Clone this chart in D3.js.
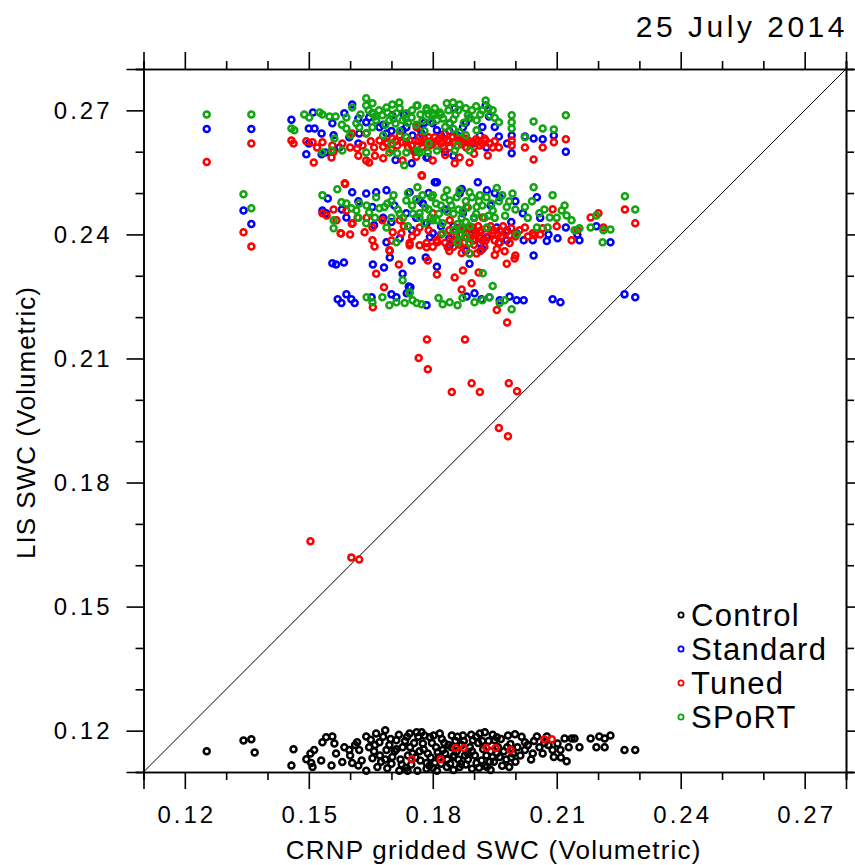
<!DOCTYPE html>
<html>
<head>
<meta charset="utf-8">
<script src="https://cdn.jsdelivr.net/npm/d3@7"></script>
<style>
  body { margin: 0; background: #fff; }
  text { font-family: "Liberation Sans", Arial, sans-serif; fill: #000; }
</style>
</head>
<body>
<div id="container"></div>
<script>
/* DATA : [CRNP, LIS] pairs */
const controlPts = [
  [0.1253,0.1150],[0.1342,0.1176],[0.1361,0.1179],[0.1369,0.1147],[0.1458,0.1116],[0.1463,0.1155],[0.1494,0.1131],[0.1504,0.1145],
  [0.1509,0.1112],[0.1513,0.1153],[0.1506,0.1122],[0.1533,0.1172],[0.1530,0.1128],[0.1542,0.1184],[0.1555,0.1116],[0.1557,0.1186],
  [0.1562,0.1169],[0.1566,0.1145],[0.1581,0.1124],[0.1586,0.1160],[0.1598,0.1153],[0.1605,0.1122],[0.1617,0.1172],[0.1620,0.1116],
  [0.1622,0.1153],[0.1639,0.1186],[0.1639,0.1103],[0.1646,0.1160],[0.1654,0.1133],[0.1663,0.1193],[0.1666,0.1112],[0.1671,0.1172],
  [0.1685,0.1201],[0.1688,0.1153],[0.1690,0.1109],[0.1702,0.1136],[0.1712,0.1177],[0.1719,0.1103],[0.1727,0.1160],[0.1739,0.1103],
  [0.1744,0.1193],[0.1751,0.1145],[0.1761,0.1196],[0.1763,0.1103],[0.1773,0.1196],[0.1776,0.1169],[0.1785,0.1122],[0.1793,0.1184],
  [0.1805,0.1122],[0.1810,0.1103],[0.1817,0.1193],[0.1824,0.1153],[0.1834,0.1112],[0.1846,0.1188],[0.1849,0.1136],[0.1865,0.1112],
  [0.1873,0.1188],[0.1885,0.1145],[0.1897,0.1177],[0.1906,0.1122],[0.1914,0.1193],[0.1926,0.1196],[0.1931,0.1112],[0.1945,0.1136],
  [0.1955,0.1184],[0.1926,0.1116],[0.1950,0.1177],[0.1962,0.1136],[0.1982,0.1188],[0.1994,0.1145],[0.1999,0.1191],[0.2023,0.1172],
  [0.2023,0.1153],[0.2042,0.1145],[0.2052,0.1186],[0.2066,0.1145],[0.2076,0.1186],[0.2090,0.1153],[0.2093,0.1136],[0.2102,0.1169],
  [0.2109,0.1153],[0.2119,0.1181],[0.2124,0.1126],[0.2129,0.1160],[0.2136,0.1181],[0.2143,0.1181],[0.2155,0.1160],[0.2182,0.1181],
  [0.2196,0.1160],[0.2203,0.1186],[0.2216,0.1160],[0.2216,0.1181],[0.2230,0.1188],[0.2264,0.1153],[0.2290,0.1153],
  [0.1600,0.1140],[0.1612,0.1165],[0.1628,0.1128],[0.1650,0.1178],[0.1658,0.1150],[0.1675,0.1125],[0.1680,0.1185],[0.1695,0.1165],
  [0.1700,0.1120],[0.1708,0.1150],[0.1718,0.1190],[0.1722,0.1130],[0.1733,0.1175],[0.1740,0.1140],[0.1748,0.1118],[0.1755,0.1170],
  [0.1768,0.1150],[0.1770,0.1128],[0.1780,0.1188],[0.1788,0.1145],[0.1798,0.1170],[0.1800,0.1110],[0.1808,0.1160],[0.1815,0.1135],
  [0.1822,0.1180],[0.1830,0.1145],[0.1838,0.1165],[0.1842,0.1120],[0.1855,0.1175],[0.1858,0.1150],[0.1862,0.1130],[0.1870,0.1165],
  [0.1878,0.1140],[0.1880,0.1118],[0.1890,0.1160],[0.1893,0.1190],[0.1902,0.1140],[0.1910,0.1170],[0.1918,0.1128],[0.1922,0.1155],
  [0.1935,0.1175],[0.1940,0.1150],[0.1948,0.1125],[0.1958,0.1160],[0.1965,0.1180],[0.1972,0.1150],[0.1978,0.1130],[0.1988,0.1168],
  [0.2005,0.1160],[0.2012,0.1140],[0.2030,0.1165],[0.2038,0.1130],[0.2058,0.1160],[0.2070,0.1170],[0.1735,0.1110],[0.1792,0.1115],
  [0.1850,0.1105],[0.1895,0.1108],[0.1940,0.1105],[0.1985,0.1112],
  [0.1660,0.1165],[0.1672,0.1140],[0.1685,0.1130],[0.1698,0.1180],[0.1712,0.1155],[0.1725,0.1118],[0.1738,0.1185],[0.1745,0.1160],
  [0.1758,0.1135],[0.1765,0.1185],[0.1778,0.1155],[0.1785,0.1108],[0.1795,0.1135],[0.1802,0.1188],[0.1812,0.1148],[0.1820,0.1120],
  [0.1828,0.1170],[0.1835,0.1130],[0.1845,0.1160],[0.1852,0.1140],[0.1860,0.1185],[0.1868,0.1120],[0.1875,0.1175],[0.1885,0.1130],
  [0.1895,0.1150],[0.1905,0.1185],[0.1912,0.1110],[0.1920,0.1175],[0.1930,0.1140],[0.1938,0.1125],[0.1945,0.1190],[0.1955,0.1145],
  [0.1968,0.1115],[0.1980,0.1160],[0.1990,0.1135],[0.2000,0.1125],[0.2015,0.1185],[0.2045,0.1175],[0.2080,0.1165],[0.2110,0.1135]
];

const standardPts = [
  [0.1253,0.2655],[0.1361,0.2655],[0.1342,0.2458],[0.1361,0.2425],
  [0.1458,0.2677],[0.1510,0.2695],[0.1500,0.2656],[0.1514,0.2656],[0.1531,0.2644],[0.1494,0.2594],[0.1531,0.2594],[0.1557,0.2669],
  [0.1586,0.2693],[0.1605,0.2714],[0.1598,0.2635],[0.1639,0.2671],[0.1654,0.2693],[0.1688,0.2644],[0.1702,0.2688],[0.1727,0.2652],
  [0.1749,0.2572],[0.1773,0.2644],[0.1788,0.2586],[0.1800,0.2669],[0.1646,0.2683],[0.1671,0.2659],[0.1574,0.2610],[0.1622,0.2644],
  [0.1736,0.2659],[0.1751,0.2639],[0.1785,0.2586],[0.1810,0.2652],[0.1841,0.2669],[0.1853,0.2705],[0.1873,0.2659],[0.1889,0.2681],
  [0.1914,0.2639],[0.1928,0.2712],[0.1936,0.2685],[0.1960,0.2637],[0.1991,0.2639],[0.1991,0.2596],[0.2023,0.2637],[0.2044,0.2632],
  [0.2066,0.2630],[0.2093,0.2639],[0.2122,0.2600],[0.1768,0.2656],[0.1860,0.2639],[0.1897,0.2620],
  [0.1540,0.2598],[0.1700,0.2650],[0.1820,0.2640],[0.1950,0.2660],[0.1710,0.2580],[0.1830,0.2600],
  [0.1620,0.2680],[0.1680,0.2665],[0.1730,0.2690],[0.1780,0.2670],[0.1840,0.2650],[0.1880,0.2670],[0.1920,0.2660],[0.1620,0.2620],
  [0.1560,0.2640],[0.1500,0.2620],[0.1760,0.2600],[0.1850,0.2590],[0.1930,0.2610],[0.1980,0.2620],
  [0.1546,0.2487],[0.1533,0.2458],[0.1542,0.2451],[0.1605,0.2502],[0.1639,0.2499],[0.1663,0.2502],[0.1688,0.2507],[0.1707,0.2470],
  [0.1688,0.2381],[0.1654,0.2466],[0.1744,0.2502],[0.1776,0.2475],[0.1793,0.2393],[0.1805,0.2526],[0.1658,0.2422],[0.1591,0.2441],
  [0.1810,0.2526],[0.1909,0.2526],[0.1785,0.2427],[0.1841,0.2374],[0.1914,0.2379],[0.1979,0.2386],[0.2020,0.2386],[0.2042,0.2386],
  [0.2076,0.2384],[0.2102,0.2391],[0.2155,0.2386],[0.2230,0.2381],[0.2122,0.2417],[0.2196,0.2420],[0.2052,0.2490],[0.2018,0.2451],
  [0.1962,0.2490],[0.2003,0.2403],[0.1873,0.2451],[0.1736,0.2451],[0.1768,0.2482],[0.1865,0.2499],[0.1931,0.2507],[0.1931,0.2393],
  [0.1882,0.2393],[0.1800,0.2403],[0.1955,0.2417],
  [0.1700,0.2430],[0.1720,0.2390],[0.1760,0.2440],[0.1830,0.2460],[0.1850,0.2420],[0.1900,0.2440],[0.1940,0.2470],[0.1990,0.2430],
  [0.1860,0.2380],[0.1960,0.2380],
  [0.1680,0.2440],[0.1750,0.2410],[0.1820,0.2420],[0.1900,0.2410],[0.1980,0.2410],[0.2060,0.2440],[0.1790,0.2500],[0.1870,0.2510],
  [0.1950,0.2500],[0.2000,0.2480],[0.1620,0.2480],[0.1580,0.2460],[0.1880,0.2360],[0.1920,0.2365],[0.1840,0.2390],[0.2080,0.2400],
  [0.2150,0.2400],
  [0.1557,0.2330],[0.1566,0.2327],[0.1585,0.2332],[0.1655,0.2327],[0.1682,0.2320],[0.1696,0.2344],[0.1727,0.2305],[0.1742,0.2274],
  [0.1749,0.2337],[0.1783,0.2344],[0.1810,0.2322],[0.1889,0.2329],[0.2044,0.2349],
  [0.1570,0.2243],[0.1579,0.2234],[0.1591,0.2255],[0.1603,0.2243],[0.1611,0.2234],[0.1652,0.2248],[0.1700,0.2255],[0.1712,0.2248],
  [0.1737,0.2258],[0.1746,0.2272],[0.1785,0.2229],[0.1882,0.2250],[0.1901,0.2258],[0.1918,0.2243],[0.1937,0.2248],[0.1962,0.2241],
  [0.1986,0.2250],[0.2003,0.2241],[0.2020,0.2241],[0.2090,0.2243],[0.2109,0.2236],[0.2264,0.2255],[0.2290,0.2248]
];

const tunedPts = [
  [0.1253,0.2575],[0.1361,0.2620],[0.1342,0.2405],[0.1361,0.2371],[0.2265,0.2460],[0.2290,0.2427],
  [0.1458,0.2627],[0.1463,0.2620],[0.1494,0.2625],[0.1509,0.2623],[0.1512,0.2574],[0.1533,0.2623],[0.1555,0.2586],[0.1557,0.2615],
  [0.1581,0.2620],[0.1605,0.2644],[0.1617,0.2608],[0.1639,0.2644],[0.1639,0.2579],[0.1646,0.2574],[0.1658,0.2610],[0.1680,0.2584],
  [0.1688,0.2623],[0.1702,0.2632],[0.1714,0.2615],[0.1727,0.2579],[0.1736,0.2623],[0.1749,0.2615],[0.1761,0.2659],[0.1776,0.2623],
  [0.1793,0.2615],[0.1800,0.2579],[0.1671,0.2627],[0.1690,0.2620],[0.1727,0.2623],[0.1744,0.2627],[0.1763,0.2615],[0.1785,0.2623],
  [0.1810,0.2615],[0.1829,0.2644],[0.1853,0.2572],[0.1865,0.2586],[0.1873,0.2623],[0.1889,0.2574],[0.1897,0.2623],[0.1928,0.2627],
  [0.1933,0.2591],[0.1945,0.2610],[0.1960,0.2610],[0.1991,0.2627],[0.1991,0.2615],[0.2023,0.2610],[0.2044,0.2581],[0.2066,0.2610],
  [0.2093,0.2623],[0.2122,0.2630],[0.1841,0.2610],[0.1881,0.2610],[0.1914,0.2615],[0.1768,0.2635],[0.1817,0.2632],
  [0.1780,0.2630],[0.1795,0.2625],[0.1805,0.2635],[0.1820,0.2620],[0.1835,0.2628],[0.1850,0.2622],[0.1860,0.2632],[0.1870,0.2618],
  [0.1885,0.2628],[0.1905,0.2630],[0.1920,0.2620],[0.1700,0.2605],[0.1720,0.2640],[0.1755,0.2600],
  [0.1765,0.2625],[0.1775,0.2612],[0.1790,0.2635],[0.1800,0.2620],[0.1812,0.2628],[0.1825,0.2612],[0.1840,0.2625],[0.1848,0.2635],
  [0.1858,0.2615],[0.1866,0.2625],[0.1878,0.2632],[0.1890,0.2618],[0.1900,0.2612],[0.1910,0.2625],[0.1925,0.2632],[0.1938,0.2620],
  [0.1950,0.2625],[0.1630,0.2615],[0.1650,0.2625],[0.1680,0.2612],[0.1710,0.2625],[0.1740,0.2610],[0.1620,0.2590],[0.1660,0.2590],
  [0.1760,0.2588],[0.1830,0.2592],[0.1900,0.2595],[0.1560,0.2600],[0.1600,0.2610],[0.1520,0.2610],
  [0.1587,0.2524],[0.1533,0.2451],[0.1543,0.2446],[0.1567,0.2434],[0.1577,0.2403],[0.1591,0.2458],[0.1606,0.2427],[0.1618,0.2441],
  [0.1635,0.2405],[0.1654,0.2386],[0.1659,0.2371],[0.1695,0.2362],[0.1678,0.2434],[0.1703,0.2405],[0.1724,0.2403],[0.1744,0.2379],
  [0.1761,0.2405],[0.1768,0.2374],[0.1785,0.2379],[0.1809,0.2386],[0.1720,0.2434],[0.1654,0.2417],[0.1773,0.2543],[0.1744,0.2374],
  [0.1785,0.2369],[0.1811,0.2381],[0.1836,0.2369],[0.1865,0.2417],[0.1882,0.2405],[0.1897,0.2417],[0.1914,0.2405],[0.1931,0.2415],
  [0.1945,0.2403],[0.1962,0.2410],[0.1986,0.2398],[0.1986,0.2379],[0.1974,0.2359],[0.1998,0.2342],[0.2023,0.2417],[0.2042,0.2403],
  [0.2046,0.2398],[0.2066,0.2415],[0.2090,0.2461],[0.2136,0.2386],[0.2182,0.2441],[0.2201,0.2451],[0.2213,0.2417],[0.1906,0.2354],
  [0.1882,0.2466],[0.1800,0.2451],[0.1841,0.2434],[0.1921,0.2441],[0.1768,0.2417],
  [0.1845,0.2395],[0.1855,0.2410],[0.1860,0.2385],[0.1870,0.2400],[0.1875,0.2380],[0.1885,0.2415],[0.1890,0.2390],[0.1900,0.2375],
  [0.1905,0.2400],[0.1910,0.2420],[0.1920,0.2385],[0.1925,0.2370],[0.1935,0.2395],[0.1940,0.2420],[0.1950,0.2385],[0.1955,0.2365],
  [0.1965,0.2395],[0.1970,0.2420],[0.1850,0.2370],[0.1880,0.2365],[0.1915,0.2360],[0.1820,0.2400],[0.1830,0.2380],
  [0.1840,0.2410],[0.1852,0.2385],[0.1865,0.2375],[0.1872,0.2412],[0.1880,0.2395],[0.1895,0.2405],[0.1898,0.2385],[0.1912,0.2395],
  [0.1918,0.2410],[0.1928,0.2385],[0.1945,0.2410],[0.1958,0.2400],[0.1962,0.2380],[0.1978,0.2405],[0.1990,0.2415],[0.2000,0.2395],
  [0.2010,0.2410],[0.1700,0.2385],[0.1730,0.2420],[0.1750,0.2395],[0.1790,0.2410],[0.1800,0.2370],[0.1640,0.2440],[0.1600,0.2400],
  [0.1560,0.2460],[0.2030,0.2395],[0.2060,0.2400],[0.2100,0.2420],[0.2150,0.2410],[0.1840,0.2360],[0.1870,0.2355],[0.1950,0.2350],
  [0.1774,0.2542],[0.1588,0.2522],[0.1663,0.2305],[0.1696,0.2360],[0.1718,0.2327],[0.1682,0.2272],[0.1655,0.2224],[0.1788,0.2337],
  [0.1810,0.2303],[0.1853,0.2296],[0.1873,0.2313],[0.1894,0.2282],[0.1870,0.2267],[0.1911,0.2308],[0.1889,0.2354],[0.1578,0.2402],
  [0.1604,0.2426],[0.1979,0.2329],[0.2000,0.2349],[0.1955,0.2217],
  [0.1980,0.2187],[0.1786,0.2146],[0.1878,0.2146],[0.1766,0.2101],[0.1788,0.2074],[0.1846,0.2019],[0.1894,0.2040],[0.1914,0.2019],
  [0.1984,0.2040],[0.2004,0.2021],[0.1960,0.1932],[0.1982,0.1912],[0.1504,0.1658],[0.1603,0.1619],[0.1622,0.1614],
  [0.1749,0.1131],[0.1819,0.1131],[0.1855,0.1158],[0.1875,0.1158],[0.1930,0.1158],[0.1952,0.1158],[0.1988,0.1153],[0.2070,0.1179],
  [0.2088,0.1179]
];

const sportPts = [
  [0.1253,0.2690],[0.1361,0.2690],[0.1342,0.2497],[0.1361,0.2463],[0.2265,0.2492],[0.2290,0.2460],
  [0.1489,0.2690],[0.1501,0.2683],[0.1526,0.2695],[0.1533,0.2690],[0.1550,0.2685],[0.1565,0.2685],[0.1458,0.2656],[0.1465,0.2652],
  [0.1555,0.2603],[0.1533,0.2598],[0.1581,0.2603],[0.1562,0.2632],[0.1591,0.2683],[0.1605,0.2707],[0.1639,0.2729],[0.1639,0.2712],
  [0.1654,0.2717],[0.1654,0.2693],[0.1688,0.2707],[0.1702,0.2714],[0.1719,0.2719],[0.1615,0.2669],[0.1591,0.2656],[0.1663,0.2676],
  [0.1678,0.2688],[0.1695,0.2676],[0.1712,0.2693],[0.1727,0.2676],[0.1749,0.2683],[0.1763,0.2712],[0.1785,0.2700],[0.1800,0.2688],
  [0.1654,0.2659],[0.1695,0.2598],[0.1714,0.2596],[0.1736,0.2598],[0.1763,0.2603],[0.1788,0.2598],[0.1731,0.2567],[0.1639,0.2598],
  [0.1736,0.2635],[0.1622,0.2659],[0.1736,0.2693],[0.1761,0.2712],[0.1785,0.2705],[0.1800,0.2693],[0.1817,0.2695],[0.1834,0.2717],
  [0.1849,0.2719],[0.1865,0.2714],[0.1885,0.2688],[0.1906,0.2676],[0.1928,0.2724],[0.1938,0.2688],[0.1960,0.2671],[0.1991,0.2688],
  [0.1991,0.2671],[0.1991,0.2656],[0.2023,0.2635],[0.2044,0.2673],[0.2066,0.2656],[0.2093,0.2654],[0.2122,0.2688],[0.1768,0.2598],
  [0.1810,0.2603],[0.1853,0.2603],[0.1889,0.2603],[0.1865,0.2647],[0.1906,0.2652],[0.1810,0.2676],[0.1841,0.2669],
  [0.1670,0.2700],[0.1685,0.2665],[0.1710,0.2668],[0.1740,0.2670],[0.1770,0.2690],[0.1795,0.2672],[0.1825,0.2680],[0.1855,0.2690],
  [0.1875,0.2670],[0.1895,0.2700],[0.1915,0.2690],[0.1945,0.2700],[0.1760,0.2665],[0.1830,0.2660],
  [0.1625,0.2690],[0.1645,0.2700],[0.1660,0.2685],[0.1690,0.2695],[0.1705,0.2680],[0.1720,0.2705],[0.1735,0.2680],[0.1750,0.2700],
  [0.1775,0.2675],[0.1790,0.2690],[0.1805,0.2705],[0.1820,0.2690],[0.1838,0.2700],[0.1850,0.2678],[0.1862,0.2700],[0.1880,0.2705],
  [0.1890,0.2682],[0.1905,0.2710],[0.1920,0.2700],[0.1935,0.2705],[0.1950,0.2682],[0.1580,0.2665],[0.1600,0.2640],[0.1640,0.2645],
  [0.1680,0.2640],[0.1720,0.2650],[0.1780,0.2650],[0.1850,0.2655],[0.1880,0.2640],[0.1700,0.2620],[0.1790,0.2620],[0.1860,0.2615],
  [0.1533,0.2495],[0.1569,0.2509],[0.1579,0.2478],[0.1603,0.2463],[0.1560,0.2434],[0.1560,0.2415],[0.1622,0.2475],[0.1646,0.2453],
  [0.1663,0.2490],[0.1671,0.2463],[0.1683,0.2466],[0.1688,0.2417],[0.1712,0.2381],[0.1736,0.2482],[0.1763,0.2514],[0.1768,0.2451],
  [0.1780,0.2427],[0.1797,0.2490],[0.1810,0.2434],[0.1639,0.2427],[0.1591,0.2475],[0.1615,0.2458],[0.1800,0.2495],[0.1834,0.2507],
  [0.1865,0.2507],[0.1889,0.2502],[0.1914,0.2495],[0.1955,0.2512],[0.1993,0.2499],[0.1841,0.2482],[0.1873,0.2458],[0.1906,0.2466],
  [0.1945,0.2458],[0.1979,0.2466],[0.1768,0.2441],[0.1800,0.2434],[0.1824,0.2427],[0.1860,0.2381],[0.1889,0.2379],[0.1889,0.2354],
  [0.1931,0.2417],[0.2003,0.2400],[0.2023,0.2466],[0.2044,0.2514],[0.2058,0.2451],[0.2083,0.2441],[0.2090,0.2495],[0.2052,0.2417],
  [0.2078,0.2417],[0.2112,0.2458],[0.2119,0.2470],[0.2124,0.2446],[0.2136,0.2434],[0.2143,0.2410],[0.2155,0.2415],[0.2182,0.2417],
  [0.2196,0.2446],[0.2213,0.2410],[0.2230,0.2412],[0.2211,0.2381],[0.1824,0.2403],
  [0.1700,0.2480],[0.1720,0.2450],[0.1750,0.2470],[0.1790,0.2460],[0.1820,0.2470],[0.1850,0.2450],[0.1880,0.2480],[0.1900,0.2440],
  [0.1920,0.2470],[0.1935,0.2445],[0.1960,0.2480],[0.1860,0.2425],[0.1880,0.2430],[0.1700,0.2440],[0.1740,0.2420],
  [0.1690,0.2475],[0.1705,0.2495],[0.1715,0.2460],[0.1728,0.2440],[0.1740,0.2500],[0.1752,0.2450],[0.1760,0.2485],[0.1775,0.2495],
  [0.1782,0.2465],[0.1795,0.2440],[0.1808,0.2475],[0.1815,0.2450],[0.1828,0.2490],[0.1835,0.2455],[0.1845,0.2470],[0.1858,0.2490],
  [0.1862,0.2460],[0.1870,0.2440],[0.1885,0.2465],[0.1895,0.2490],[0.1905,0.2450],[0.1912,0.2480],[0.1925,0.2440],[0.1930,0.2490],
  [0.1942,0.2475],[0.1950,0.2440],[0.1968,0.2495],[0.1975,0.2445],[0.1985,0.2480],[0.2000,0.2460],[0.1850,0.2410],[0.1870,0.2415],
  [0.1890,0.2420],[0.1865,0.2400],[0.1880,0.2395],[0.1620,0.2440],[0.1640,0.2470],[0.1660,0.2440],[0.2030,0.2440],[0.2070,0.2460],
  [0.2100,0.2440],[0.2040,0.2480],
  [0.1727,0.2289],[0.1744,0.2258],[0.1921,0.2306],[0.1945,0.2275],
  [0.1640,0.2248],[0.1654,0.2236],[0.1678,0.2248],[0.1695,0.2229],[0.1712,0.2236],[0.1732,0.2234],[0.1744,0.2260],[0.1751,0.2241],
  [0.1761,0.2234],[0.1773,0.2231],[0.1814,0.2246],[0.1824,0.2231],[0.1841,0.2236],[0.1860,0.2229],[0.1872,0.2246],[0.1901,0.2236],
  [0.1920,0.2241],[0.1937,0.2248],[0.1962,0.2234],[0.1991,0.2219],[0.1974,0.2241]
];

const seriesNames = ["Control", "Standard", "Tuned", "SPoRT"];
const seriesColors = ["#000000", "#0000ff", "#ff0000", "#12a512"];
const majorTicks = [0.12, 0.15, 0.18, 0.21, 0.24, 0.27];
const minorTicks = [0.11, 0.13, 0.14, 0.16, 0.17, 0.19, 0.20, 0.22, 0.23, 0.25, 0.26, 0.28];
const axisDomain = [0.11, 0.28];
const dateTitle = "25 July 2014";

/* CONSTANTS */
const width = 855;
const height = 865;
const plotLeft = 143.5, plotRight = 846, plotTop = 69, plotBottom = 772;

const svg = d3.select("#container")
  .append("svg")
  .attr("width", width)
  .attr("height", height)
  .style("background", "#fff");

/* SCALES */
const xScale = d3.scaleLinear().domain(axisDomain).range([plotLeft, plotRight]);
const yScale = d3.scaleLinear().domain(axisDomain).range([plotBottom, plotTop]);

/* AXES: major ticks long, minor short, labels only bottom/left */
function drawAxis(axisFn, scale, transform, labels) {
  const g = svg.append("g").attr("transform", transform);
  g.call(axisFn(scale).tickValues(minorTicks).tickSize(8).tickFormat(""));
  const gm = svg.append("g").attr("transform", transform);
  gm.call(axisFn(scale).tickValues(majorTicks).tickSize(17).tickPadding(labels ? 17 : 0)
    .tickFormat(labels ? d3.format(".2f") : ""));
  [g, gm].forEach(s => {
    s.select(".domain").attr("stroke", "#000").attr("stroke-width", 1.6);
    s.selectAll(".tick line").attr("stroke", "#000").attr("stroke-width", 1.6);
    s.selectAll(".tick text")
      .style("font-size", "24px")
      .style("letter-spacing", "3px")
      .attr("fill", "#000");
  });
  return gm;
}

const xAx = drawAxis(d3.axisBottom, xScale, `translate(0,${plotBottom})`, true);
xAx.selectAll(".tick text").attr("dy", "0.71em").attr("dx", "1.5px");
drawAxis(d3.axisTop, xScale, `translate(0,${plotTop})`, false);
const yAx = drawAxis(d3.axisLeft, yScale, `translate(${plotLeft},0)`, true);
yAx.selectAll(".tick text").attr("dx", "3px");
drawAxis(d3.axisRight, yScale, `translate(${plotRight},0)`, false);

/* diagonal 1:1 line */
svg.append("line")
  .attr("x1", xScale(axisDomain[0])).attr("y1", yScale(axisDomain[0]))
  .attr("x2", xScale(axisDomain[1])).attr("y2", yScale(axisDomain[1]))
  .attr("stroke", "#000").attr("stroke-width", 1);

/* POINTS: hollow circles, drawn control -> standard -> tuned -> sport */
const allSeries = [controlPts, standardPts, tunedPts, sportPts];
allSeries.forEach((pts, i) => {
  svg.append("g")
    .selectAll("circle")
    .data(pts)
    .join("circle")
      .attr("cx", d => xScale(d[0]))
      .attr("cy", d => yScale(d[1]))
      .attr("r", 3)
      .attr("fill", "none")
      .attr("stroke", seriesColors[i])
      .attr("stroke-width", 2.5);
});

/* LEGEND */
const legend = svg.append("g");
seriesNames.forEach((name, i) => {
  const by = 626 + i * 34;
  legend.append("circle")
    .attr("cx", 681).attr("cy", by - 11).attr("r", 2.6)
    .attr("fill", "none").attr("stroke", seriesColors[i]).attr("stroke-width", 1.8);
  legend.append("text")
    .attr("x", 691).attr("y", by)
    .style("font-size", "31px")
    .style("letter-spacing", "1.3px")
    .text(name);
});

/* TITLES */
svg.append("text")
  .attr("x", 848).attr("y", 37)
  .attr("text-anchor", "end")
  .style("font-size", "30px")
  .style("letter-spacing", "3.5px")
  .text(dateTitle);

svg.append("text")
  .attr("x", (plotLeft + plotRight) / 2 - 1).attr("y", 859)
  .attr("text-anchor", "middle")
  .style("font-size", "26px")
  .style("letter-spacing", "1.2px")
  .text("CRNP gridded SWC (Volumetric)");

svg.append("text")
  .attr("transform", `translate(35,${(plotTop + plotBottom) / 2 + 2}) rotate(-90)`)
  .attr("text-anchor", "middle")
  .style("font-size", "26px")
  .style("letter-spacing", "1px")
  .text("LIS SWC (Volumetric)");
</script>
</body>
</html>
